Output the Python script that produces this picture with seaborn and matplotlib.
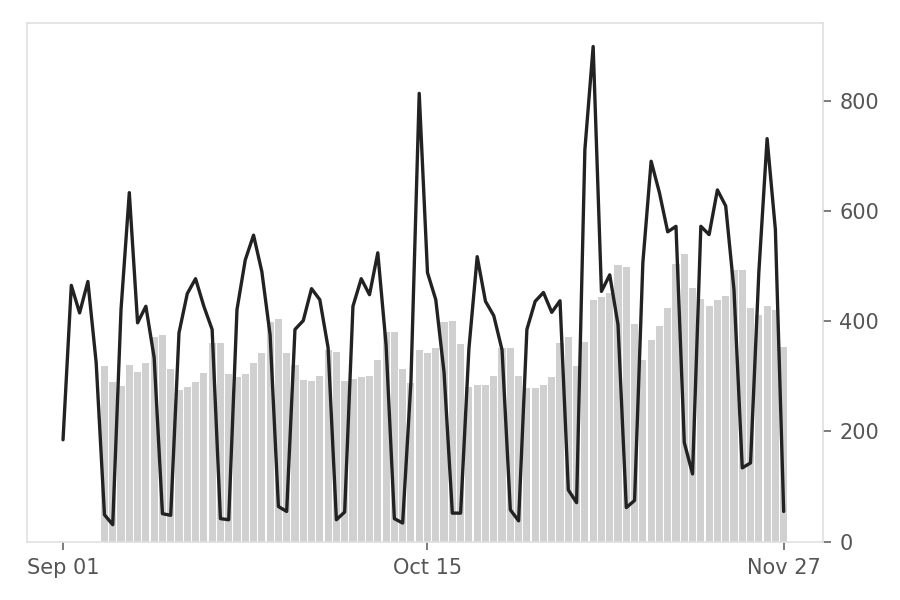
import numpy as np
import pandas as pd
import matplotlib
matplotlib.use('Agg')
import matplotlib.pyplot as plt
import seaborn as sns

# daily series, Sep 01 .. Nov 27 (day index 0..87)
line_vals = [185, 465, 415, 472, 325, 49, 31, 421, 633, 397,
             427, 334, 51, 48, 379, 450, 477, 427, 385, 42,
             40, 421, 511, 556, 490, 375, 64, 55, 385, 401,
             459, 439, 352, 40, 54, 427, 477, 448, 524, 357,
             42, 34, 290, 813, 488, 439, 307, 52, 52, 350,
             517, 436, 410, 348, 58, 38, 385, 436, 452, 416,
             437, 94, 71, 711, 898, 454, 484, 394, 62, 75,
             506, 690, 633, 562, 572, 180, 123, 572, 557, 638,
             609, 457, 134, 143, 488, 731, 566, 55]

# bars start on day 5
bar_start = 5
bar_vals = [318, 290, 283, 320, 307, 325, 372, 375, 314, 275,
            280, 290, 306, 361, 361, 304, 299, 304, 325, 343,
            398, 404, 343, 321, 294, 291, 300, 348, 345, 291,
            295, 298, 300, 329, 381, 381, 314, 288, 347, 343,
            352, 398, 400, 359, 281, 285, 284, 301, 352, 352,
            301, 278, 278, 285, 298, 361, 371, 318, 363, 438,
            443, 452, 501, 499, 395, 329, 366, 392, 423, 504,
            522, 461, 441, 427, 439, 446, 492, 493, 423, 412,
            427, 420, 354]

tick_days = [0, 44, 87]
tick_labels = ['Sep 01', 'Oct 15', 'Nov 27']

days = np.arange(len(line_vals))
bar_days = np.arange(bar_start, bar_start + len(bar_vals))

sns.set_theme(style='white')
plt.rcParams['font.family'] = ['DejaVu Sans']

fig = plt.figure(figsize=(9, 6), dpi=100)
ax = fig.add_axes([0.03, 0.097, 0.884, 0.865])

sns.barplot(x=bar_days, y=bar_vals, native_scale=True, color='#d0d0d0',
            saturation=1, width=0.86, linewidth=0, ax=ax)
sns.lineplot(x=days, y=line_vals, color='#222222', linewidth=2.4, ax=ax)

ax.set_xlim(-4.35, 91.7)
ax.set_ylim(0, 941)
ax.set_xticks(tick_days)
ax.set_xticklabels(tick_labels)
ax.set_yticks([0, 200, 400, 600, 800])
ax.yaxis.tick_right()
ax.set_xlabel('')
ax.set_ylabel('')
ax.grid(False)

for sp in ax.spines.values():
    sp.set_color('#e0e0e0')
    sp.set_linewidth(1.2)

ax.tick_params(axis='both', which='major', direction='out', length=6,
               width=1.2, color='#666666', labelcolor='#555555',
               labelsize=15, pad=6)
ax.tick_params(axis='x', bottom=True)
ax.tick_params(axis='y', right=True, left=False)

fig.savefig('out.png', dpi=100, facecolor='white')
